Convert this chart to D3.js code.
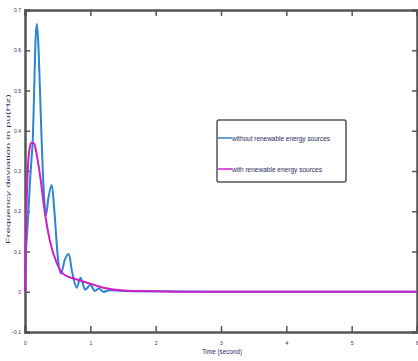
<!DOCTYPE html>
<html><head><meta charset="utf-8">
<script src="https://cdn.jsdelivr.net/npm/d3@7"></script>
<style>body{margin:0;background:#fff}svg{display:block}</style>
</head><body>
<script>
const xTicks = [0,1,2,3,4,5,6];
const yTicks = [-0.1,0,0.1,0.2,0.3,0.4,0.5,0.6,0.7];
const seriesNames = ["without renewable energy sources","with renewable energy sources"];
const tWithout = [0,0.015,0.03,0.05,0.075,0.10,0.12,0.14,0.16,0.18,0.20,0.225,0.255,0.29,0.32,0.36,0.41,0.45,0.50,0.55,0.61,0.67,0.72,0.79,0.85,0.92,1.0,1.07,1.13,1.2,1.3,1.5,2.0,3.0,6.0];
const vWithout = [0,0.10,0.14,0.19,0.27,0.33,0.38,0.50,0.62,0.665,0.63,0.52,0.375,0.24,0.19,0.235,0.265,0.20,0.09,0.045,0.08,0.094,0.05,0.01,0.035,0.005,0.017,0.002,0.008,0.0,0.004,0.002,0.001,0,0];
const tWith = [0,0.01,0.025,0.045,0.07,0.1,0.14,0.18,0.23,0.31,0.38,0.49,0.58,0.7,0.8,1.0,1.2,1.5,2.0,2.5,6.0];
const vWith = [0,0.10,0.22,0.31,0.355,0.37,0.368,0.34,0.29,0.19,0.127,0.07,0.045,0.035,0.03,0.02,0.01,0.003,0.001,0,0];

const W=418,H=361;
const m={l:25,t:10,r:1,b:29};
const svg=d3.select("body").append("svg").attr("width",W).attr("height",H);
const x=d3.scaleLinear().domain([0,6]).range([m.l,W-m.r]);
const y=d3.scaleLinear().domain([-0.1,0.7]).range([H-m.b,m.t]);
const axisCol="#555";
const tickFont="Liberation Sans Narrow, Liberation Sans, sans-serif";

const gx=svg.append("g").attr("transform",`translate(0,${y(-0.1)})`)
  .call(d3.axisBottom(x).tickValues(xTicks).tickSize(-6).tickPadding(9).tickFormat(d3.format("d")));
const gxt=svg.append("g").attr("transform",`translate(0,${y(0.7)})`)
  .call(d3.axisTop(x).tickValues(xTicks).tickSize(-6).tickFormat(""));
const gy=svg.append("g").attr("transform",`translate(${x(0)},0)`)
  .call(d3.axisLeft(y).tickValues(yTicks).tickSize(-5).tickPadding(4).tickFormat(d=>d===0?"0":d3.format(".1f")(d)));
const gyr=svg.append("g").attr("transform",`translate(${x(6)},0)`)
  .call(d3.axisRight(y).tickValues(yTicks).tickSize(-5).tickFormat(""));
[gx,gxt,gy,gyr].forEach(g=>{
  g.select(".domain").attr("stroke",axisCol).attr("stroke-width",2.5);
  g.selectAll(".tick line").attr("stroke",axisCol).attr("stroke-width",1.5);
  g.selectAll("text").attr("font-size",5).attr("font-family",tickFont).attr("fill","#3a2a6a");
});

const line=d3.line().x(d=>x(d[0])).y(d=>y(d[1])).curve(d3.curveMonotoneX);
const dWithout=tWithout.map((t,i)=>[t,vWithout[i]]);
const dWith=tWith.map((t,i)=>[t,vWith[i]]);
svg.append("path").datum(dWithout).attr("d",line).attr("fill","none").attr("stroke","#2a86d0").attr("stroke-width",2);
svg.append("path").datum(dWith).attr("d",line).attr("fill","none").attr("stroke","#cc1fcc").attr("stroke-width",2);

svg.append("text").attr("x",222).attr("y",354).attr("text-anchor","middle")
  .attr("font-size",7).attr("font-family",tickFont).attr("fill","#3a2a6a")
  .attr("textLength",40).attr("lengthAdjust","spacingAndGlyphs").text("Time (second)");
svg.append("text").attr("transform","translate(10,169) rotate(-90)").attr("text-anchor","middle")
  .attr("font-size",5).attr("font-family",tickFont).attr("fill","#3a2a6a")
  .attr("textLength",150).attr("lengthAdjust","spacingAndGlyphs").text("Frequency deviation in pu(Hz)");

const lg=svg.append("g");
lg.append("rect").attr("x",217).attr("y",120).attr("width",129).attr("height",62).attr("rx",2)
  .attr("fill","#fff").attr("stroke","#555").attr("stroke-width",1.5);
const lcol=["#2a86d0","#cc1fcc"], ly=[138,169], lw=[98,90];
seriesNames.forEach((n,i)=>{
  lg.append("line").attr("x1",218).attr("x2",232).attr("y1",ly[i]).attr("y2",ly[i]).attr("stroke",lcol[i]).attr("stroke-width",1.5);
  lg.append("text").attr("x",232).attr("y",ly[i]+2.5).attr("font-size",7).attr("font-family",tickFont)
    .attr("fill","#2a2a5a").attr("textLength",lw[i]).attr("lengthAdjust","spacingAndGlyphs").text(n);
});
</script>
</body></html>
